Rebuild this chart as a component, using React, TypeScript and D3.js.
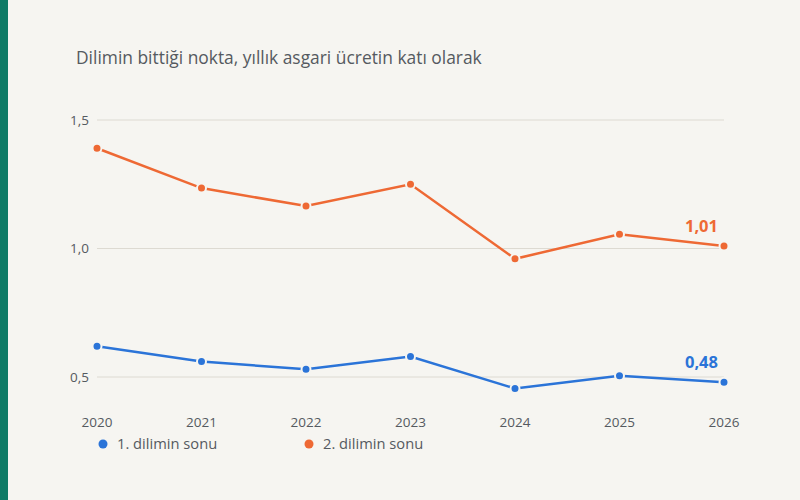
import React from "react";
import * as d3 from "d3";

const years = ["2020", "2021", "2022", "2023", "2024", "2025", "2026"];
const slice1 = [0.62, 0.56, 0.53, 0.58, 0.455, 0.505, 0.48];
const slice2 = [1.39, 1.235, 1.165, 1.25, 0.96, 1.055, 1.01];
const yTicks = [0.5, 1.0, 1.5];
const seriesNames = ["1. dilimin sonu", "2. dilimin sonu"];
const title = "Dilimin bittiği nokta, yıllık asgari ücretin katı olarak";

const W = 800;
const H = 500;
const BG = "#f6f5f1";
const BLUE = "#2b74d8";
const ORANGE = "#ee6934";
const TXT = "#555a60";
const FONT = "'Open Sans', 'Noto Sans', sans-serif";

export default function App() {
  const x = d3.scalePoint<string>().domain(years).range([97, 724]);
  const y = d3.scaleLinear().domain([0.5, 1.5]).range([377, 120]);
  const line = d3
    .line<number>()
    .x((_, i) => x(years[i]) as number)
    .y((d) => y(d));
  const fmt = (v: number) => d3.format(".1f")(v).replace(".", ",");
  const fmt2 = (v: number) => d3.format(".2f")(v).replace(".", ",");

  const series = [
    { name: seriesNames[0], values: slice1, color: BLUE },
    { name: seriesNames[1], values: slice2, color: ORANGE },
  ];

  return (
    <div style={{ position: "fixed", left: 0, top: 0 }}>
      <svg width={W} height={H} style={{ display: "block" }} fontFamily={FONT}>
        <rect width={W} height={H} fill={BG} />
        <rect width={8} height={H} fill="#0f7b66" />
        <text x={76} y={64} fontSize={17.4} fill={TXT}>
          {title}
        </text>
        {yTicks.map((t) => (
          <g key={t}>
            <line x1={97} x2={724} y1={y(t)} y2={y(t)} stroke="#dddad2" strokeWidth={1} />
            <text x={89} y={y(t)} dy="0.35em" textAnchor="end" fontSize={13.5} fill={TXT}>
              {fmt(t)}
            </text>
          </g>
        ))}
        {years.map((yr) => (
          <text key={yr} x={x(yr)} y={427} textAnchor="middle" fontSize={13.5} fill={TXT}>
            {yr}
          </text>
        ))}
        {series.map((s) => (
          <g key={s.name}>
            <path d={line(s.values) || ""} fill="none" stroke={s.color} strokeWidth={2.5} />
            {s.values.map((v, i) => (
              <circle
                key={i}
                cx={x(years[i])}
                cy={y(v)}
                r={4.5}
                fill={s.color}
                stroke={BG}
                strokeWidth={2}
              />
            ))}
            <text
              x={(x(years[years.length - 1]) as number) - 6}
              y={y(s.values[s.values.length - 1]) - 14}
              textAnchor="end"
              fontSize={16.5}
              fontWeight="bold"
              fill={s.color}
            >
              {fmt2(s.values[s.values.length - 1])}
            </text>
          </g>
        ))}
        {series.map((s, i) => (
          <g key={"lg" + s.name} transform={`translate(${103 + i * 206},444)`}>
            <circle r={4.5} fill={s.color} />
            <text x={14} dy="0.35em" fontSize={14.7} fill={TXT}>
              {s.name}
            </text>
          </g>
        ))}
      </svg>
    </div>
  );
}
